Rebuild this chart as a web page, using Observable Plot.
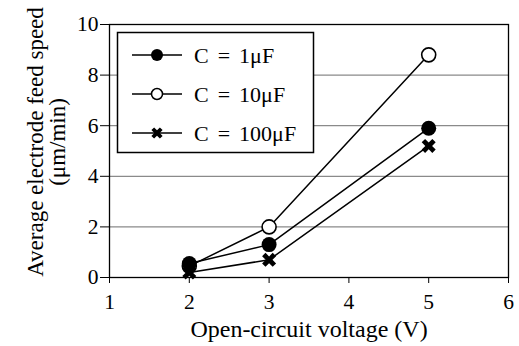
<!DOCTYPE html>
<html><head><meta charset="utf-8">
<script src="https://cdn.jsdelivr.net/npm/d3@7"></script>
<script src="https://cdn.jsdelivr.net/npm/@observablehq/plot@0.6"></script>
<style>
body{margin:0;background:#fff;}
#wrap{position:relative;width:519px;height:346px;}
#wrap svg.leg{position:absolute;left:0;top:0;pointer-events:none;}
</style></head><body><div id="wrap"></div>
<script>
const voltage = [2, 3, 5];
const seriesNames = ["C = 1μF", "C = 10μF", "C = 100μF"];
const c1 = [0.55, 1.3, 5.9];
const c10 = [0.45, 2.0, 8.8];
const c100 = [0.2, 0.7, 5.2];
const xTicks = [1, 2, 3, 4, 5, 6];
const yTicks = [0, 2, 4, 6, 8, 10];
const gridValues = [2, 4, 6, 8];
const xTitle = "Open-circuit voltage (V)";
const yTitle = ["Average electrode feed speed", "(μm/min)"];

const FONT = "'Liberation Serif', 'Times New Roman', serif";

// thick X symbol (rotated plus polygon)
const thickX = {
  draw(ctx, size) {
    const r = Math.sqrt(size / Math.PI), t = r * 0.32;
    const pts = [[-t,-r],[t,-r],[t,-t],[r,-t],[r,t],[t,t],[t,r],[-t,r],[-t,t],[-r,t],[-r,-t],[-t,-t]]
      .map(([x, y]) => [(x - y) / Math.SQRT2, (x + y) / Math.SQRT2]);
    ctx.moveTo(pts[0][0], pts[0][1]);
    for (let i = 1; i < pts.length; i++) ctx.lineTo(pts[i][0], pts[i][1]);
    ctx.closePath();
  }
};

const allSeries = [c1, c10, c100];
const table = seriesNames.flatMap((s, i) => voltage.map((v, j) => ({series: s, x: v, y: allSeries[i][j]})));
const bySeries = name => table.filter(d => d.series === name);

const chart = Plot.plot({
  width: 519, height: 346,
  marginLeft: 109, marginRight: 11, marginTop: 24, marginBottom: 69,
  style: {fontFamily: FONT, fontSize: "21.5px", color: "black", background: "white"},
  x: {domain: [1, 6], ticks: xTicks, tickFormat: d => String(d), tickSize: 6, tickPadding: 10, label: null},
  y: {domain: [0, 10], ticks: yTicks, tickFormat: d => String(d), tickSize: 9, tickPadding: 2, label: null},
  marks: [
    Plot.ruleY(gridValues, {stroke: "#8a8a8a", strokeWidth: 1.2}),
    Plot.frame({stroke: "black", strokeWidth: 1.3}),
    Plot.line(table, {x: "x", y: "y", z: "series", stroke: "black", strokeWidth: 1.5}),
    Plot.dot(bySeries(seriesNames[1]), {x: "x", y: "y", r: 7, fill: "white", stroke: "black", strokeWidth: 1.6}),
    Plot.dot(bySeries(seriesNames[2]), {x: "x", y: "y", r: 7.5, symbol: thickX, fill: "black", stroke: "none"}),
    Plot.dot(bySeries(seriesNames[0]), {x: "x", y: "y", r: 7.5, fill: "black", stroke: "none"}),
    Plot.text([xTitle], {frameAnchor: "bottom", text: d => d, dy: 52, fontSize: 24, textAnchor: "middle", lineAnchor: "middle"}),
    Plot.text([yTitle.join("\n")], {frameAnchor: "left", text: d => d, rotate: -90, dx: -63, dy: -9, fontSize: 23, textAnchor: "middle", lineAnchor: "middle", lineHeight: 0.96})
  ]
});
const wrap = document.getElementById("wrap");
wrap.appendChild(chart);

// legend overlay
const leg = d3.select(wrap).append("svg").attr("class", "leg").attr("width", 519).attr("height", 346)
  .style("font-family", FONT);
leg.append("rect").attr("x", 117.5).attr("y", 32.5).attr("width", 196).attr("height", 120)
  .attr("fill", "white").attr("stroke", "black").attr("stroke-width", 1.5);
const rowY = [55, 94, 133];
seriesNames.forEach((name, i) => {
  const g = leg.append("g").attr("transform", `translate(0,${rowY[i]})`);
  g.append("line").attr("x1", 132).attr("x2", 182).attr("stroke", "black").attr("stroke-width", 1.5);
  if (i === 0) g.append("circle").attr("cx", 157).attr("r", 6).attr("fill", "black");
  else if (i === 1) g.append("circle").attr("cx", 157).attr("r", 5.5).attr("fill", "white").attr("stroke", "black").attr("stroke-width", 1.5);
  else g.append("path").attr("transform", "translate(157,0)").attr("d", d3.symbol(thickX, Math.PI * 36)()).attr("fill", "black");
  g.append("text").attr("x", 194).attr("y", 7.5).attr("font-size", 22).attr("word-spacing", "3.5px").text(name);
});
</script></body></html>
